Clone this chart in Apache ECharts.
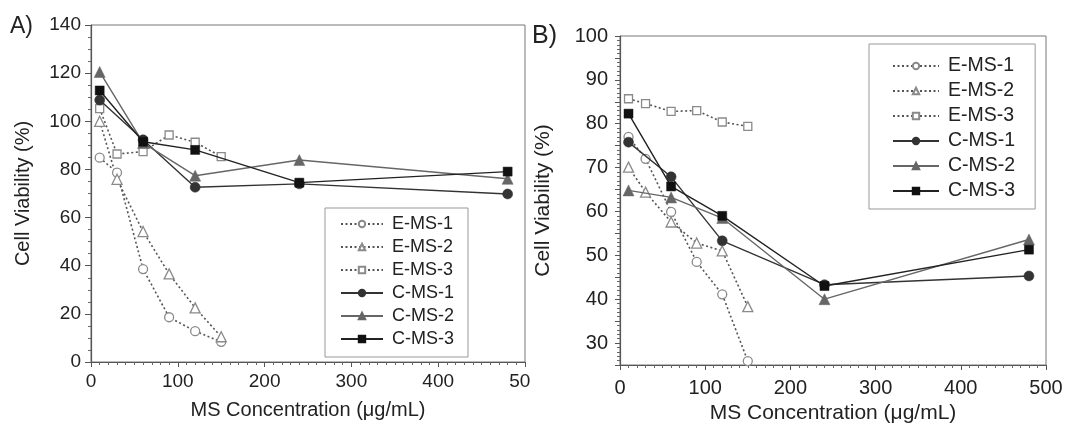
<!DOCTYPE html>
<html>
<head>
<meta charset="utf-8">
<script src="https://cdn.jsdelivr.net/npm/echarts@6/dist/echarts.min.js"></script>
<style>
html,body{margin:0;padding:0;background:#fff;}
#c{width:1066px;height:433px;}
</style>
</head>
<body>
<div id="c"></div>
<script>
// ---- data ----
const seriesNames = ['E-MS-1', 'E-MS-2', 'E-MS-3', 'C-MS-1', 'C-MS-2', 'C-MS-3'];
const xE = [10, 30, 60, 90, 120, 150];
const xC = [10, 60, 120, 240, 480];

// Panel A
const A_EMS1 = [84.9, 78.7, 38.6, 18.6, 12.8, 8.4];
const A_EMS2 = [100, 75.9, 54.2, 36.6, 22.5, 10.5];
const A_EMS3 = [105.3, 86.4, 87.4, 94.3, 91.3, 85.3];
const A_CMS1 = [108.8, 92.3, 72.6, 74.0, 69.8];
const A_CMS2 = [120.5, 91.0, 77.4, 83.9, 76.1];
const A_CMS3 = [112.8, 91.5, 88.1, 74.5, 79.1];

// Panel B
const B_EMS1 = [77.0, 72.0, 59.9, 48.5, 41.1, 25.9];
const B_EMS2 = [70.1, 64.4, 57.6, 52.8, 51.0, 38.3];
const B_EMS3 = [85.7, 84.6, 82.8, 83.0, 80.4, 79.4];
const B_CMS1 = [75.8, 67.9, 53.3, 43.3, 45.3];
const B_CMS2 = [64.8, 63.2, 58.5, 40.0, 53.6];
const B_CMS3 = [82.3, 65.7, 59.0, 43.0, 51.3];

const xTicksA = [0, 100, 200, 300, 400, 500];
const yTicksA = [0, 20, 40, 60, 80, 100, 120, 140];
const yTicksB = [30, 40, 50, 60, 70, 80, 90, 100];

const axisTitleX = 'MS Concentration (\u03bcg/mL)';
const axisTitleY = 'Cell Viability (%)';

// ---- styling ----
const FONT = 'Liberation Sans, Arial, Helvetica, sans-serif';
const TXT = '#222';

function pair(xs, ys) { return xs.map((x, i) => [x, ys[i]]); }

const styles = {
  'E-MS-1': {symbol: 'circle', size: 9, open: true},
  'E-MS-2': {symbol: 'triangle', size: 10, open: true},
  'E-MS-3': {symbol: 'rect', size: 8, open: true},
  'C-MS-1': {symbol: 'circle', size: 10, fill: '#333', line: '#333'},
  'C-MS-2': {symbol: 'triangle', size: 11, fill: '#666', line: '#666'},
  'C-MS-3': {symbol: 'rect', size: 9, fill: '#111', line: '#222'}
};

function makeSeries(name, xs, ys, idx) {
  const s = styles[name];
  const base = {
    name: name, type: 'line', xAxisIndex: idx, yAxisIndex: idx,
    data: pair(xs, ys), symbol: s.symbol, symbolSize: s.size,
    animation: false, z: s.open ? 3 : 4
  };
  if (s.open) {
    base.lineStyle = {color: '#555', width: 1.6, type: [2, 2.5]};
    base.itemStyle = {color: '#fff', borderColor: '#8a8a8a', borderWidth: 1.3};
  } else {
    base.lineStyle = {color: s.line, width: 1.4, type: 'solid'};
    base.itemStyle = {color: s.fill, borderColor: s.fill, borderWidth: 0.5};
  }
  return base;
}

const series = [
  makeSeries('E-MS-1', xE, A_EMS1, 0),
  makeSeries('E-MS-2', xE, A_EMS2, 0),
  makeSeries('E-MS-3', xE, A_EMS3, 0),
  makeSeries('C-MS-1', xC, A_CMS1, 0),
  makeSeries('C-MS-2', xC, A_CMS2, 0),
  makeSeries('C-MS-3', xC, A_CMS3, 0),
  makeSeries('E-MS-1', xE, B_EMS1, 1),
  makeSeries('E-MS-2', xE, B_EMS2, 1),
  makeSeries('E-MS-3', xE, B_EMS3, 1),
  makeSeries('C-MS-1', xC, B_CMS1, 1),
  makeSeries('C-MS-2', xC, B_CMS2, 1),
  makeSeries('C-MS-3', xC, B_CMS3, 1)
];

const axisLine = {show: true, lineStyle: {color: '#555', width: 1.2}};

const option = {
  backgroundColor: '#fff',
  animation: false,
  textStyle: {fontFamily: FONT},
  grid: [
    {left: 91, right: 541, top: 25, bottom: 71, show: true, borderColor: '#777', borderWidth: 1, backgroundColor: 'transparent'},
    {left: 620, right: 20, top: 36, bottom: 68, show: true, borderColor: '#777', borderWidth: 1, backgroundColor: 'transparent'}
  ],
  xAxis: [
    {
      type: 'value', gridIndex: 0, min: xTicksA[0], max: xTicksA[xTicksA.length - 1], interval: 100,
      axisLine: axisLine, splitLine: {show: false},
      axisTick: {show: true, inside: false, length: 5, lineStyle: {color: '#555'}},
      minorTick: {show: true, splitNumber: 10, length: 3, lineStyle: {color: '#666'}},
      axisLabel: {fontSize: 19, color: TXT, margin: 10, fontFamily: FONT},
      name: axisTitleX, nameLocation: 'middle', nameGap: 38,
      nameTextStyle: {fontSize: 20, color: TXT, fontFamily: FONT}
    },
    {
      type: 'value', gridIndex: 1, min: 0, max: 500, interval: 100,
      axisLine: axisLine, splitLine: {show: false},
      axisTick: {show: true, inside: false, length: 5, lineStyle: {color: '#555'}},
      minorTick: {show: true, splitNumber: 10, length: 3, lineStyle: {color: '#666'}},
      axisLabel: {fontSize: 20, color: TXT, margin: 13, fontFamily: FONT},
      name: axisTitleX, nameLocation: 'middle', nameGap: 38,
      nameTextStyle: {fontSize: 21, color: TXT, fontFamily: FONT}
    }
  ],
  yAxis: [
    {
      type: 'value', gridIndex: 0, min: yTicksA[0], max: yTicksA[yTicksA.length - 1], interval: 20,
      axisLine: axisLine, splitLine: {show: false},
      axisTick: {show: true, inside: false, length: 6, lineStyle: {color: '#555'}},
      minorTick: {show: true, splitNumber: 4, length: 3, lineStyle: {color: '#666'}},
      axisLabel: {fontSize: 19, color: TXT, margin: 10, fontFamily: FONT},
      name: axisTitleY, nameLocation: 'middle', nameGap: 58,
      nameTextStyle: {fontSize: 20, color: TXT, fontFamily: FONT}
    },
    {
      type: 'value', gridIndex: 1, min: 25, max: yTicksB[yTicksB.length - 1], interval: 5,
      axisLine: axisLine, splitLine: {show: false},
      axisTick: {show: true, inside: false, length: 5, lineStyle: {color: '#555'}},
      minorTick: {show: true, splitNumber: 5, length: 3, lineStyle: {color: '#666'}},
      axisLabel: {fontSize: 20, color: TXT, margin: 12, fontFamily: FONT,
        formatter: v => (yTicksB.indexOf(v) >= 0 ? String(v) : '')},
      name: axisTitleY, nameLocation: 'middle', nameGap: 66,
      nameTextStyle: {fontSize: 21, color: TXT, fontFamily: FONT}
    }
  ],
  legend: [
    {
      data: seriesNames, orient: 'vertical', left: 325, top: 208,
      itemWidth: 42, itemHeight: 8, itemGap: 5, selectedMode: false,
      padding: [7, 14, 9, 15], borderColor: '#999', borderWidth: 1, backgroundColor: '#fff',
      textStyle: {fontSize: 18, color: TXT, fontFamily: FONT, padding: [0, 0, 0, 4]}
    },
    {
      data: seriesNames, orient: 'vertical', left: 869, top: 44,
      itemWidth: 46, itemHeight: 8, itemGap: 5, selectedMode: false,
      padding: [12, 20, 8, 23], borderColor: '#999', borderWidth: 1, backgroundColor: '#fff',
      textStyle: {fontSize: 19.5, color: TXT, fontFamily: FONT, padding: [0, 0, 0, 4]}
    }
  ],
  graphic: [
    {type: 'text', left: 10, top: 15, style: {text: 'A)', fontSize: 23, fill: TXT, fontFamily: FONT}},
    {type: 'text', left: 532, top: 24, style: {text: 'B)', fontSize: 25, fill: TXT, fontFamily: FONT}},
    {type: 'rect', shape: {x: 530, y: 372, width: 18, height: 28}, style: {fill: '#fff'}, z: 100}
  ],
  series: series
};

const chart = echarts.init(document.getElementById('c'), null, {renderer: 'canvas'});
chart.setOption(option);
</script>
</body>
</html>
